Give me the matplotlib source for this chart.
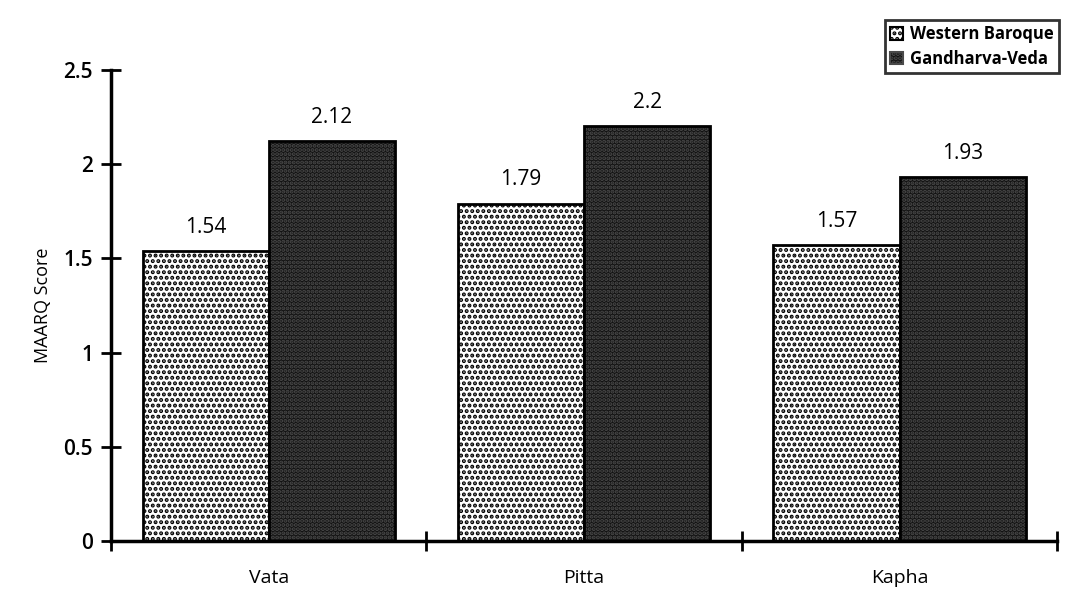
import numpy as np
import matplotlib.pyplot as plt
from matplotlib.patches import Patch

categories = ['Vata', 'Pitta', 'Kapha']
western_baroque = [1.54, 1.79, 1.57]
gandharva_veda = [2.12, 2.2, 1.93]
series_names = ['Western Baroque', 'Gandharva-Veda']
y_ticks = [0, 0.5, 1, 1.5, 2, 2.5]
y_tick_labels = ['0', '0.5', '1', '1.5', '2', '2.5']

plt.rcParams['font.family'] = ['Open Sans', 'DejaVu Sans']
plt.rcParams['hatch.linewidth'] = 2.0

fig = plt.figure(figsize=(10.67, 5.89), dpi=100)
ax = fig.add_axes([0.104, 0.0815, 0.887, 0.80])

x = np.arange(len(categories))
w = 0.4

# light dotted bars
ax.bar(x - w / 2, western_baroque, w, color='white', edgecolor='black',
       hatch='...', linewidth=2, zorder=2)

# dark bars: dark fill with grey speckle, then black outline
ax.bar(x + w / 2, gandharva_veda, w, color='#121212', edgecolor='#4a4a4a',
       hatch='....', linewidth=0, zorder=2)
ax.bar(x + w / 2, gandharva_veda, w, fill=False, edgecolor='black',
       linewidth=2, zorder=3)

for xi, v in zip(x, western_baroque):
    ax.text(xi - w / 2, v + 0.07, f'{v:g}', ha='center', va='bottom', fontsize=15)
for xi, v in zip(x, gandharva_veda):
    ax.text(xi + w / 2, v + 0.07, f'{v:g}', ha='center', va='bottom', fontsize=15)

ax.set_xlim(-0.5, 2.5)
ax.set_ylim(0, 2.5)
ax.set_yticks(y_ticks)
ax.set_yticklabels(y_tick_labels, fontsize=15, fontweight='semibold')
ax.set_xticks([-0.5, 0.5, 1.5, 2.5])
ax.set_xticklabels([])
ax.set_xticks(x, minor=True)
ax.set_xticklabels(categories, minor=True, fontsize=14)
ax.tick_params(axis='x', which='minor', length=0, pad=20)
ax.tick_params(axis='both', which='major', direction='inout', length=14, width=2)
ax.tick_params(axis='y', pad=6)
ax.set_ylabel('MAARQ Score', fontsize=13, labelpad=8)

for s in ['top', 'right']:
    ax.spines[s].set_visible(False)
ax.spines['left'].set_linewidth(2.5)
ax.spines['bottom'].set_linewidth(2.5)

handles = [Patch(facecolor='white', edgecolor='black', hatch='...', linewidth=1.5),
           Patch(facecolor='#121212', edgecolor='#4a4a4a', hatch='....', linewidth=1.5)]
leg = fig.legend(handles, series_names, loc='upper right',
                 bbox_to_anchor=(1.0, 0.98), frameon=True, fancybox=False,
                 handlelength=0.8, handleheight=0.8, handletextpad=0.4,
                 borderpad=0.3, labelspacing=0.4,
                 prop={'weight': 'bold', 'size': 12})
leg.get_frame().set_edgecolor('black')
leg.get_frame().set_linewidth(2)

fig.savefig('out.png', dpi=100)
